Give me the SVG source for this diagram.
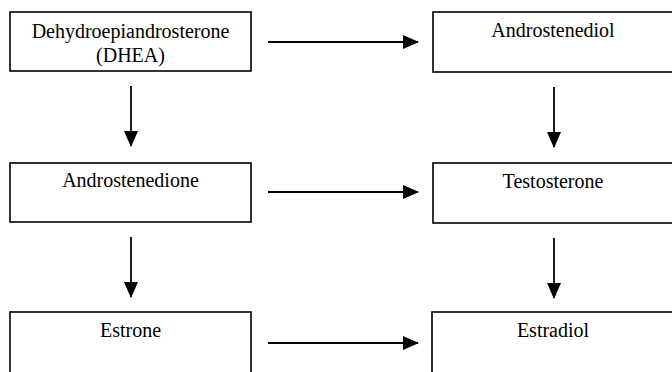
<svg xmlns="http://www.w3.org/2000/svg" width="672" height="372" viewBox="0 0 672 372">
<defs>
<style>
.box{fill:#fff;stroke:#000;stroke-width:1.6}
.lbl{font-family:"Liberation Serif","Times New Roman",serif;font-size:20px;fill:#000;text-anchor:middle}
.conn line{stroke:#000;stroke-width:1.8}
</style>
<marker id="ah" markerWidth="16" markerHeight="14" refX="15" refY="7" orient="auto" markerUnits="userSpaceOnUse">
<path d="M0,0 L16,7 L0,14 Z" fill="#000"/>
</marker>
</defs>
<rect width="672" height="372" fill="#fff"/>
<g id="dhea">
<rect class="box" x="10" y="12" width="241" height="59"/>
<text class="lbl" x="130.5" y="38">Dehydroepiandrosterone</text>
<text class="lbl" x="130.5" y="62">(DHEA)</text>
</g>
<g id="androstenediol">
<rect class="box" x="433" y="12" width="245" height="60"/>
<text class="lbl" x="553" y="37">Androstenediol</text>
</g>
<g id="androstenedione">
<rect class="box" x="10" y="163" width="241" height="59"/>
<text class="lbl" x="130.5" y="187">Androstenedione</text>
</g>
<g id="testosterone">
<rect class="box" x="433" y="163" width="245" height="60"/>
<text class="lbl" x="553" y="188">Testosterone</text>
</g>
<g id="estrone">
<rect class="box" x="10" y="312" width="241" height="70"/>
<text class="lbl" x="130.5" y="337">Estrone</text>
</g>
<g id="estradiol">
<rect class="box" x="432" y="312" width="246" height="70"/>
<text class="lbl" x="553" y="337">Estradiol</text>
</g>
<g class="conn" id="connectors">
<line x1="268" y1="42" x2="418" y2="42" marker-end="url(#ah)"/>
<line x1="268" y1="192" x2="418" y2="192" marker-end="url(#ah)"/>
<line x1="268" y1="343" x2="418" y2="343" marker-end="url(#ah)"/>
<line x1="131" y1="86" x2="131" y2="146" marker-end="url(#ah)"/>
<line x1="554" y1="87" x2="554" y2="147" marker-end="url(#ah)"/>
<line x1="131" y1="237" x2="131" y2="297" marker-end="url(#ah)"/>
<line x1="554" y1="238" x2="554" y2="298" marker-end="url(#ah)"/>
</g>
</svg>
